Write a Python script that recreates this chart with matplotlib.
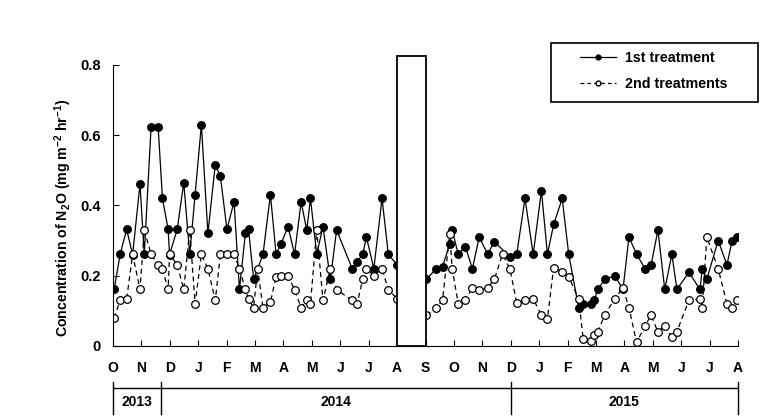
import numpy as np
import matplotlib.pyplot as plt
from matplotlib.patches import Rectangle
from matplotlib.lines import Line2D
from matplotlib.transforms import blended_transform_factory

plt.rcParams['font.family'] = ['Liberation Sans', 'DejaVu Sans']
plt.rcParams['font.weight'] = 'bold'
plt.rcParams['mathtext.default'] = 'regular'

# sampling dates, in months after 1 Oct 2013
x1 = [0.04, 0.25, 0.48, 0.69, 0.95, 1.10, 1.34, 1.59, 1.74, 1.94, 1.99, 2.26,
      2.49, 2.70, 2.89, 3.11, 3.34, 3.60, 3.78, 4.01, 4.26, 4.45, 4.66, 4.77,
      4.95, 5.28, 5.54, 5.74, 5.91, 6.16, 6.39, 6.62, 6.82, 6.95, 7.17, 7.39,
      7.65, 7.87, 8.42, 8.59, 8.79, 8.92, 9.18, 9.47, 9.69, 10.00,
      11.03, 11.38, 11.60, 11.85, 11.94, 12.15, 12.40, 12.65, 12.89, 13.19,
      13.42, 13.97, 14.21, 14.50, 14.79, 15.08, 15.29, 15.51, 15.81, 16.04,
      16.39, 16.55, 16.81, 16.94, 17.06, 17.31, 17.66, 17.95, 18.16, 18.43,
      18.73, 18.94, 19.18, 19.42, 19.67, 19.85, 20.27, 20.66, 20.74, 20.90,
      21.30, 21.61, 21.79, 21.97]
y1 = [0.161, 0.261, 0.332, 0.26, 0.461, 0.261, 0.623, 0.623, 0.42, 0.332, 0.26, 0.332,
      0.465, 0.261, 0.431, 0.63, 0.321, 0.516, 0.483, 0.332, 0.411, 0.161, 0.321, 0.332,
      0.19, 0.261, 0.431, 0.261, 0.29, 0.34, 0.261, 0.41, 0.33, 0.42, 0.261, 0.34,
      0.19, 0.33, 0.22, 0.24, 0.261, 0.31, 0.22, 0.42, 0.261, 0.231,
      0.19, 0.22, 0.226, 0.29, 0.33, 0.261, 0.283, 0.22, 0.31, 0.261,
      0.297, 0.254, 0.261, 0.42, 0.261, 0.442, 0.261, 0.346, 0.42, 0.261,
      0.109, 0.12, 0.12, 0.13, 0.161, 0.19, 0.2, 0.161, 0.31, 0.261,
      0.22, 0.231, 0.33, 0.161, 0.261, 0.161, 0.21, 0.161, 0.22, 0.19,
      0.3, 0.231, 0.3, 0.31]

x2 = [0.04, 0.25, 0.48, 0.69, 0.95, 1.10, 1.34, 1.59, 1.74, 1.94, 1.99, 2.26,
      2.49, 2.70, 2.89, 3.11, 3.34, 3.60, 3.78, 4.01, 4.26, 4.45, 4.66, 4.77,
      4.95, 5.09, 5.28, 5.54, 5.74, 5.91, 6.16, 6.39, 6.62, 6.82, 6.95, 7.17, 7.39,
      7.65, 7.87, 8.42, 8.59, 8.79, 8.92, 9.18, 9.47, 9.69, 10.00,
      11.03, 11.38, 11.60, 11.85, 11.94, 12.15, 12.40, 12.65, 12.89, 13.19,
      13.42, 13.71, 13.97, 14.21, 14.50, 14.79, 15.08, 15.29, 15.51, 15.81, 16.04,
      16.39, 16.55, 16.81, 16.94, 17.06, 17.31, 17.66, 17.95, 18.16, 18.43,
      18.73, 18.94, 19.18, 19.42, 19.67, 19.85, 20.27, 20.66, 20.74, 20.90,
      21.30, 21.61, 21.79, 21.97]
y2 = [0.079, 0.13, 0.133, 0.261, 0.161, 0.33, 0.261, 0.231, 0.22, 0.161, 0.261, 0.231,
      0.161, 0.33, 0.12, 0.261, 0.22, 0.13, 0.261, 0.261, 0.261, 0.22, 0.161, 0.133,
      0.109, 0.22, 0.109, 0.125, 0.197, 0.2, 0.2, 0.16, 0.109, 0.13, 0.12, 0.33, 0.13,
      0.22, 0.16, 0.13, 0.12, 0.19, 0.22, 0.2, 0.22, 0.16, 0.135,
      0.088, 0.109, 0.13, 0.319, 0.22, 0.12, 0.13, 0.166, 0.16, 0.166,
      0.19, 0.261, 0.22, 0.122, 0.13, 0.134, 0.088, 0.077, 0.223, 0.212, 0.197,
      0.134, 0.02, 0.014, 0.03, 0.041, 0.088, 0.135, 0.166, 0.109, 0.01,
      0.058, 0.088, 0.04, 0.058, 0.025, 0.041, 0.13, 0.133, 0.109, 0.31,
      0.22, 0.12, 0.109, 0.13]

months = ['O', 'N', 'D', 'J', 'F', 'M', 'A', 'M', 'J', 'J', 'A', 'S',
          'O', 'N', 'D', 'J', 'F', 'M', 'A', 'M', 'J', 'J', 'A']
years = ['2013', '2014', '2015']
year_bounds = [0, 1.7, 14, 22]
gap = (10, 11)  # no sampling between Aug and Sep 2014

fig = plt.figure(figsize=(7.81, 4.17), dpi=100)
ax = fig.add_axes([0.1447, 0.1703, 0.8003, 0.6739])

for xs, ys, style, face in [(x1, y1, '-', 'black'), (x2, y2, '--', 'white')]:
    xs = np.array(xs)
    ys = np.array(ys)
    for part in [xs <= gap[0], xs >= gap[1]]:
        ax.plot(xs[part], ys[part], linestyle=style, color='black', lw=0.9,
                dashes=(4, 3) if style == '--' else (None, None),
                marker='o', markersize=5.5, markerfacecolor=face,
                markeredgecolor='black', markeredgewidth=0.9)

ax.add_patch(Rectangle((gap[0], 0), gap[1] - gap[0], 0.825, facecolor='white',
                       edgecolor='black', lw=1.3, clip_on=False, zorder=5))

ax.set_xlim(0, 22)
ax.set_ylim(0, 0.8)
ax.spines['top'].set_visible(False)
ax.spines['right'].set_visible(False)
ax.set_xticks(np.arange(len(months)))
ax.set_xticklabels(months, fontsize=10, fontweight='bold')
ax.set_yticks([0, 0.2, 0.4, 0.6, 0.8])
ax.set_yticklabels(['0', '0.2', '0.4', '0.6', '0.8'], fontsize=10.5, fontweight='bold')
ax.tick_params(axis='x', direction='in', length=4, pad=11)
ax.tick_params(axis='y', direction='in', length=4, pad=9)
ax.set_ylabel(r'Concentration of N$_2$O (mg m$^{-2}$ hr$^{-1}$)', fontsize=10.2,
              fontweight='bold')
ax.yaxis.set_label_coords(-0.062, 0.455)

# year brackets under the month labels
tr = blended_transform_factory(ax.transData, fig.transFigure)
y_line = 1 - 388 / 417
fig.add_artist(Line2D([year_bounds[0], year_bounds[-1]], [y_line, y_line],
                      transform=tr, color='black', lw=1))
for b in year_bounds:
    fig.add_artist(Line2D([b, b], [1 - 382 / 417, 1 - 414 / 417],
                          transform=tr, color='black', lw=1))
for i, yr in enumerate(years):
    mid = (year_bounds[i] + year_bounds[i + 1]) / 2
    fig.text(mid, 1 - 402 / 417, yr, transform=tr, ha='center', va='center',
             fontsize=10, fontweight='bold')

# legend with a wide frame drawn separately
handles = [Line2D([], [], color='black', lw=0.9, marker='o', markersize=3.5,
                  markerfacecolor='black'),
           Line2D([], [], color='black', lw=0.9, dashes=(3, 2.5), marker='o',
                  markersize=3.5, markerfacecolor='white')]
fig.legend(handles, ['1st treatment', '2nd treatments'],
           loc='center', bbox_to_anchor=(654 / 781, 1 - 71 / 417),
           frameon=False, prop={'weight': 'bold', 'size': 10.3},
           handlelength=2.5, handletextpad=0.65, labelspacing=0.9,
           borderpad=0, borderaxespad=0)
fig.add_artist(Rectangle((551 / 781, 1 - 102 / 417), 207 / 781, 59 / 417,
                         transform=fig.transFigure, fill=False,
                         edgecolor='black', lw=1.2))

fig.savefig('out.png', dpi=100)
